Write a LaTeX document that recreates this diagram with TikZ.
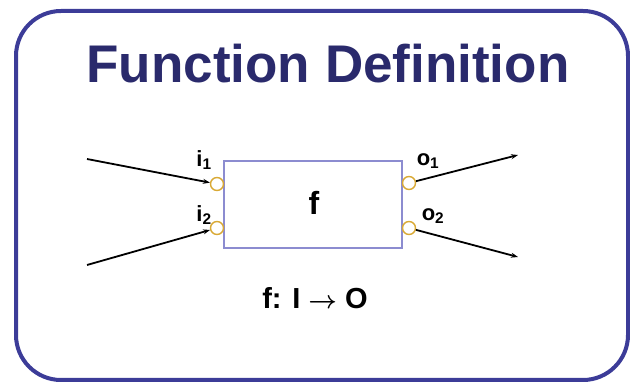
\documentclass[tikz,border=0pt]{standalone}
\usepackage{fontspec}
\setmainfont{Liberation Sans}
\usepackage{amsmath}
\usepackage{tikz}
\usetikzlibrary{arrows.meta}
\usepackage{xcolor}

\definecolor{frameblue}{HTML}{3C3C98}
\definecolor{titleblue}{HTML}{2A2A6C}
\definecolor{boxblue}{HTML}{8C8CD0}
\definecolor{portgold}{HTML}{D9A935}

\begin{document}
\begin{tikzpicture}[x=1pt, y=-1pt,
    port/.style={circle, draw=portgold, fill=white, line width=1.4pt,
                 minimum size=13pt, inner sep=0pt},
    wire/.style={black, line width=1.8pt, -{Stealth[length=7pt, width=5pt]}},
    portlabel/.style={font=\bfseries\fontsize{22}{24}\selectfont, inner sep=0pt}]
    \useasboundingbox (0,0) rectangle (630,382);

    % --- 1. THE FRAME AND TITLE ---
    \draw[frameblue, line width=4pt, rounded corners=45pt] (16,11) rectangle (628,380);
    \node[titleblue, anchor=base, inner sep=0pt,
          font=\bfseries\fontsize{53}{60}\selectfont] (title) at (328,83) {Function Definition};

    % --- 2. THE FUNCTION BOX ---
    \draw[boxblue, line width=1.3pt] (224,161) rectangle (402,248);
    \node[anchor=base, inner sep=0pt, font=\bfseries\fontsize{32}{34}\selectfont] (f) at (314,215) {f};

    % --- 3. PORTS (inputs left, outputs right) ---
    \node[port] (i1) at (217,184) {};
    \node[port] (i2) at (217,228) {};
    \node[port] (o1) at (409,183) {};
    \node[port] (o2) at (409,228) {};

    \node[portlabel] (li1) at (204,160) {i$_{\mathbf 1}$};
    \node[portlabel] (li2) at (204,215) {i$_{\mathbf 2}$};
    \node[portlabel] (lo1) at (428,161) {o$_{\mathbf 1}$};
    \node[portlabel] (lo2) at (433,216) {o$_{\mathbf 2}$};

    % --- 4. WIRES ---
    \coordinate (a1) at (87,159);
    \coordinate (a2) at (87,265);
    \coordinate (b1) at (518,155);
    \coordinate (b2) at (518,257);
    \draw[wire] (a1) -- (i1);
    \draw[wire] (a2) -- (i2);
    \draw[wire] (o1) -- (b1);
    \draw[wire] (o2) -- (b2);

    % --- 5. SIGNATURE ---
    \node[anchor=base, inner sep=0pt, font=\bfseries\fontsize{29}{31}\selectfont]
        (sig) at (315,309) {f: I $\boldsymbol{\rightarrow}$ O};

\end{tikzpicture}
\end{document}
